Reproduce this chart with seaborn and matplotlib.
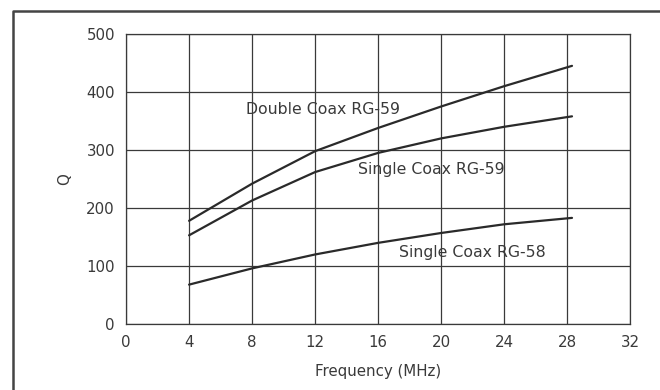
import numpy as np
import pandas as pd
import matplotlib
matplotlib.use("Agg")
import matplotlib.pyplot as plt
from matplotlib.lines import Line2D
import seaborn as sns

# values
freq = [4, 8, 12, 16, 20, 24, 28.3]
double_rg59 = [178, 242, 298, 338, 375, 410, 445]
single_rg59 = [153, 213, 262, 295, 320, 340, 358]
single_rg58 = [68, 96, 120, 140, 157, 172, 183]
series_names = ["Double Coax RG-59", "Single Coax RG-59", "Single Coax RG-58"]
label_pos = [(7.6, 369), (14.7, 266), (17.3, 124)]

xticks = [0, 4, 8, 12, 16, 20, 24, 28, 32]
yticks = [0, 100, 200, 300, 400, 500]

df = pd.DataFrame({
    "Frequency": freq * 3,
    "Q": double_rg59 + single_rg59 + single_rg58,
    "Series": np.repeat(series_names, len(freq)),
})

sns.set_style("white")
plt.rcParams["font.family"] = ["DejaVu Sans"]

fig = plt.figure(figsize=(6.6, 3.9), dpi=100)
ax = fig.add_axes([0.191, 0.169, 0.764, 0.744])

sns.lineplot(data=df, x="Frequency", y="Q", units="Series", estimator=None,
             color="#2a2a2a", linewidth=1.6, ax=ax)

for name, (lx, ly) in zip(series_names, label_pos):
    ax.text(lx, ly, name, fontsize=11.3, color="#3a3a3a", va="center", ha="left")

ax.set_xlim(0, 32)
ax.set_ylim(0, 500)
ax.set_xticks(xticks)
ax.set_yticks(yticks)
ax.grid(True, color="#3a3a3a", linewidth=0.9)
ax.set_axisbelow(True)
for s in ax.spines.values():
    s.set_color("#3a3a3a")
    s.set_linewidth(0.9)
ax.tick_params(length=0, labelsize=10.8, labelcolor="#3a3a3a", pad=8)
ax.set_xlabel("Frequency (MHz)", fontsize=10.8, color="#3a3a3a", labelpad=10)
ax.set_ylabel("Q", fontsize=10.8, color="#3a3a3a", labelpad=10)

# outer frame (top and left edges visible)
fig.add_artist(Line2D([13 / 660, 13 / 660, 1.0], [0.0, 1 - 11 / 390, 1 - 11 / 390],
                      transform=fig.transFigure, color="#444444", linewidth=1.8))

fig.savefig("out.png", dpi=100)
